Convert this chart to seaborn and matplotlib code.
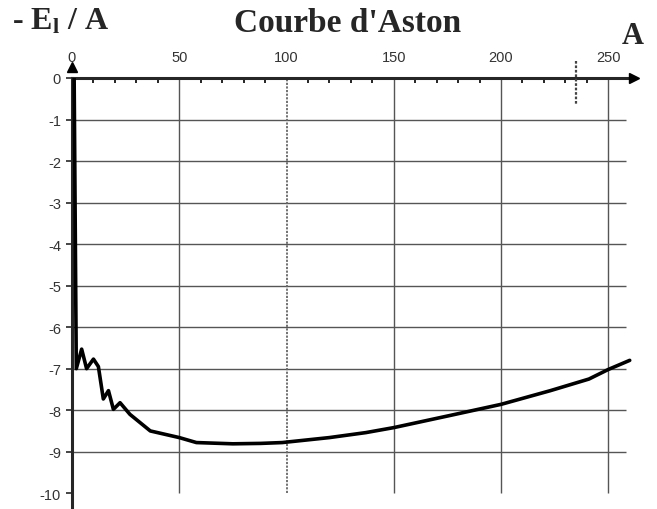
import matplotlib
matplotlib.use("Agg")
import matplotlib.pyplot as plt
import seaborn as sns
import numpy as np


# --------------------------------------------------------------------------------------------------
# données lues sur la courbe d'Aston (A, -El/A en MeV)

A_VALUES = [1, 2, 4.5, 6.8, 10, 12.3, 14.6, 17, 19.3, 22.4, 27, 36.5, 50, 58,
            75, 88, 98, 120, 137, 150, 176, 200, 223, 241, 250, 260]
EL_PER_A = [0, -7.0, -6.53, -7.0, -6.77, -6.95, -7.73, -7.53, -7.98, -7.82, -8.1, -8.5, -8.66, -8.78,
            -8.81, -8.8, -8.78, -8.66, -8.54, -8.42, -8.13, -7.86, -7.53, -7.25, -7.02, -6.8]

X_TICKS = [0, 50, 100, 150, 200, 250]
Y_TICKS = [0, -1, -2, -3, -4, -5, -6, -7, -8, -9, -10]
X_MINOR = list(range(10, 260, 10))
MARK_A = 235           # trait pointillé en haut à droite


# --------------------------------------------------------------------------------------------------

sns.set_style("white")
plt.rcParams["font.family"] = ["Liberation Sans", "DejaVu Sans"]
plt.rcParams["mathtext.fontset"] = "custom"
plt.rcParams["mathtext.bf"] = "Liberation Serif:bold"
plt.rcParams["mathtext.rm"] = "Liberation Serif:bold"

fig = plt.figure(figsize=(6.57, 5.10), dpi=100)
ax = fig.add_axes([72 / 657, 0, 562 / 657, 431 / 510])

XMAX, YMIN = 262, -10.38
GRID_END = 258.5
ax.set_xlim(0, XMAX)
ax.set_ylim(YMIN, 0)

# quadrillage
grid_kw = dict(color="#555555", lw=1.0, zorder=1)
ax.hlines(Y_TICKS[1:-1], 0, GRID_END, **grid_kw)
for xv in X_TICKS[1:]:
    if xv == 100:
        ax.vlines(xv, -10, 0, color="#666666", lw=1.3, linestyles=(0, (1.2, 0.8)), zorder=1)
    else:
        ax.vlines(xv, -10, 0, **grid_kw)

# courbe
sns.lineplot(x=A_VALUES, y=EL_PER_A, ax=ax, sort=False, estimator=None,
             color="black", lw=2.6, zorder=3)

# axes avec flèches
for s in ["right", "bottom"]:
    ax.spines[s].set_visible(False)
ax.spines["left"].set_linewidth(2.2)
ax.spines["top"].set_linewidth(2.2)
ax.plot([1.0], [1.0], marker=">", ms=7, color="black", transform=ax.transAxes, clip_on=False, zorder=5)
ax.plot([0.0], [1.025], marker="^", ms=7, color="black", transform=ax.transAxes, clip_on=False, zorder=5)

# repère pointillé vers A = 235
ax.plot([MARK_A, MARK_A], [0.41, -0.63], color="#444444", lw=1.6, ls=(0, (1.2, 0.8)),
        clip_on=False, zorder=4)

ax.xaxis.tick_top()
ax.set_xticks(X_TICKS)
ax.set_xticks(X_MINOR, minor=True)
ax.tick_params(axis="x", which="major", length=0, pad=10, labelsize=10.5, labelcolor="#333333")
ax.tick_params(axis="x", which="minor", direction="in", length=3.5, width=1.2, color="black")
ax.set_yticks(Y_TICKS)
ax.set_yticklabels([str(v) for v in Y_TICKS])
ax.tick_params(axis="y", length=4, width=1.2, pad=4, labelsize=10.5, labelcolor="#333333", left=True)
ax.set_xlabel("")
ax.set_ylabel("")

# titres
fig.text(12 / 657, 1 - 22 / 510, r"- $\mathbf{E_l}$ / A", fontsize=23, fontweight="bold",
         family="Liberation Serif", ha="left", va="center")
fig.text(348 / 657, 1 - 23 / 510, "Courbe d'Aston", fontsize=24, fontweight="bold",
         family="Liberation Serif", ha="center", va="center")
fig.text(633 / 657, 1 - 36 / 510, "A", fontsize=22, fontweight="bold",
         family="Liberation Serif", ha="center", va="center")

plt.savefig("out.png", dpi=100)
plt.close()
